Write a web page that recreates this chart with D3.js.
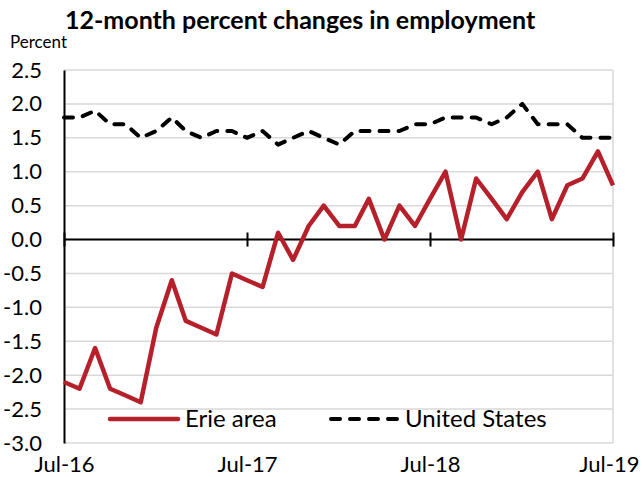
<!DOCTYPE html>
<html>
<head>
<meta charset="utf-8">
<script src="https://cdn.jsdelivr.net/npm/d3@7"></script>
<style>
  html, body { margin: 0; padding: 0; background: #fff; }
  svg { display: block; font-family: Lato, "Open Sans", sans-serif; }
</style>
</head>
<body>
<svg id="chart" width="642" height="477"></svg>
<script>
// Monthly observations, Jul-2016 through Jul-2019
const months = [
  "2016-07","2016-08","2016-09","2016-10","2016-11","2016-12",
  "2017-01","2017-02","2017-03","2017-04","2017-05","2017-06",
  "2017-07","2017-08","2017-09","2017-10","2017-11","2017-12",
  "2018-01","2018-02","2018-03","2018-04","2018-05","2018-06",
  "2018-07","2018-08","2018-09","2018-10","2018-11","2018-12",
  "2019-01","2019-02","2019-03","2019-04","2019-05","2019-06",
  "2019-07"
];
const erieArea = [
  -2.1, -2.2, -1.6, -2.2, -2.3, -2.4,
  -1.3, -0.6, -1.2, -1.3, -1.4, -0.5,
  -0.6, -0.7,  0.1, -0.3,  0.2,  0.5,
   0.2,  0.2,  0.6,  0.0,  0.5,  0.2,
   0.6,  1.0,  0.0,  0.9,  0.6,  0.3,
   0.7,  1.0,  0.3,  0.8,  0.9,  1.3,
   0.8
];
const unitedStates = [
  1.8, 1.8, 1.9, 1.7, 1.7, 1.5,
  1.6, 1.8, 1.6, 1.5, 1.6, 1.6,
  1.5, 1.6, 1.4, 1.5, 1.6, 1.5,
  1.4, 1.6, 1.6, 1.6, 1.6, 1.7,
  1.7, 1.8, 1.8, 1.8, 1.7, 1.8,
  2.0, 1.7, 1.7, 1.7, 1.5, 1.5,
  1.5
];
const yTicks = [2.5, 2.0, 1.5, 1.0, 0.5, 0.0, -0.5, -1.0, -1.5, -2.0, -2.5, -3.0];
const xTickMonths = ["2016-07", "2017-07", "2018-07", "2019-07"];
const seriesNames = ["Erie area", "United States"];

const parse = d3.timeParse("%Y-%m");
const fmtX = d3.timeFormat("%b-%y");
const dates = months.map(parse);

const width = 642;
const svg = d3.select("#chart");
const plotLeft = 64, plotRight = 613, plotTop = 70, plotBottom = 443;

const x = d3.scaleTime().domain(d3.extent(dates)).range([plotLeft, plotRight]);
const y = d3.scaleLinear().domain([-3.0, 2.5]).range([plotBottom, plotTop]);

// Gridlines
svg.append("g")
  .selectAll("line")
  .data(yTicks)
  .join("line")
  .attr("x1", plotLeft).attr("x2", plotRight)
  .attr("y1", d => y(d)).attr("y2", d => y(d))
  .attr("stroke", "#d9d9d9")
  .attr("stroke-width", 1.5);

// Plot frame (right side)
svg.append("line")
  .attr("x1", plotRight).attr("x2", plotRight)
  .attr("y1", plotTop).attr("y2", plotBottom)
  .attr("stroke", "#d9d9d9").attr("stroke-width", 1.5);

// Y axis
const yAxis = d3.axisLeft(y).tickValues(yTicks).tickSize(0).tickPadding(22)
  .tickFormat(d3.format(".1f"));
const gy = svg.append("g").attr("transform", `translate(${plotLeft},0)`).call(yAxis);
gy.select(".domain").attr("stroke", "#000").attr("stroke-width", 2);
gy.selectAll("text")
  .attr("font-size", 22).attr("fill", "#000")
  .attr("font-family", "Lato, sans-serif")
  .text(d => d3.format(".1f")(d).replace("−", "-"));

// Zero line with year ticks
const xAxis = d3.axisBottom(x)
  .tickValues(xTickMonths.map(parse))
  .tickSize(7).tickFormat("");
const gx = svg.append("g").attr("transform", `translate(0,${y(0)})`).call(xAxis);
gx.select(".domain").attr("stroke", "#000").attr("stroke-width", 2).attr("d", `M${plotLeft},0H${plotRight}`);
gx.selectAll(".tick line").attr("y1", -7).attr("y2", 7).attr("stroke", "#000").attr("stroke-width", 2);

// Bottom month labels
const xLab = d3.axisBottom(x)
  .tickValues(xTickMonths.map(parse))
  .tickSize(0).tickPadding(13).tickFormat(fmtX);
const gxl = svg.append("g").attr("transform", `translate(0,${plotBottom})`).call(xLab);
gxl.select(".domain").remove();
gxl.selectAll("text").attr("font-size", 22).attr("fill", "#000").attr("font-family", "Lato, sans-serif");
// keep the last label inside the canvas
gxl.selectAll(".tick:last-of-type text")
  .attr("text-anchor", "end")
  .attr("x", width - 3 - plotRight);

// Series lines
const line = d3.line().x((d, i) => x(dates[i])).y(d => y(d));

svg.append("path")
  .datum(unitedStates)
  .attr("d", line)
  .attr("fill", "none")
  .attr("stroke", "#000")
  .attr("stroke-width", 4)
  .attr("stroke-dasharray", "9,10")
  .attr("stroke-linecap", "round")
  .attr("stroke-linejoin", "round");

svg.append("path")
  .datum(erieArea)
  .attr("d", line)
  .attr("fill", "none")
  .attr("stroke", "#b5202a")
  .attr("stroke-width", 4.5)
  .attr("stroke-linejoin", "round");

// Title and unit label
svg.append("text")
  .attr("x", 65).attr("y", 29)
  .attr("font-size", 25).attr("font-weight", "bold")
  .text("12-month percent changes in employment");

svg.append("text")
  .attr("x", 10).attr("y", 48)
  .attr("font-size", 17)
  .text("Percent");

// Legend
const legend = svg.append("g").attr("font-size", 24);
legend.append("line")
  .attr("x1", 110).attr("x2", 178).attr("y1", 419).attr("y2", 419)
  .attr("stroke", "#b5202a").attr("stroke-width", 4.5).attr("stroke-linecap", "round");
legend.append("text").attr("x", 185).attr("y", 427).text(seriesNames[0]);
legend.append("line")
  .attr("x1", 331).attr("x2", 400).attr("y1", 419).attr("y2", 419)
  .attr("stroke", "#000").attr("stroke-width", 4).attr("stroke-dasharray", "9,10")
  .attr("stroke-linecap", "round");
legend.append("text").attr("x", 405).attr("y", 427).text(seriesNames[1]);
</script>
</body>
</html>
